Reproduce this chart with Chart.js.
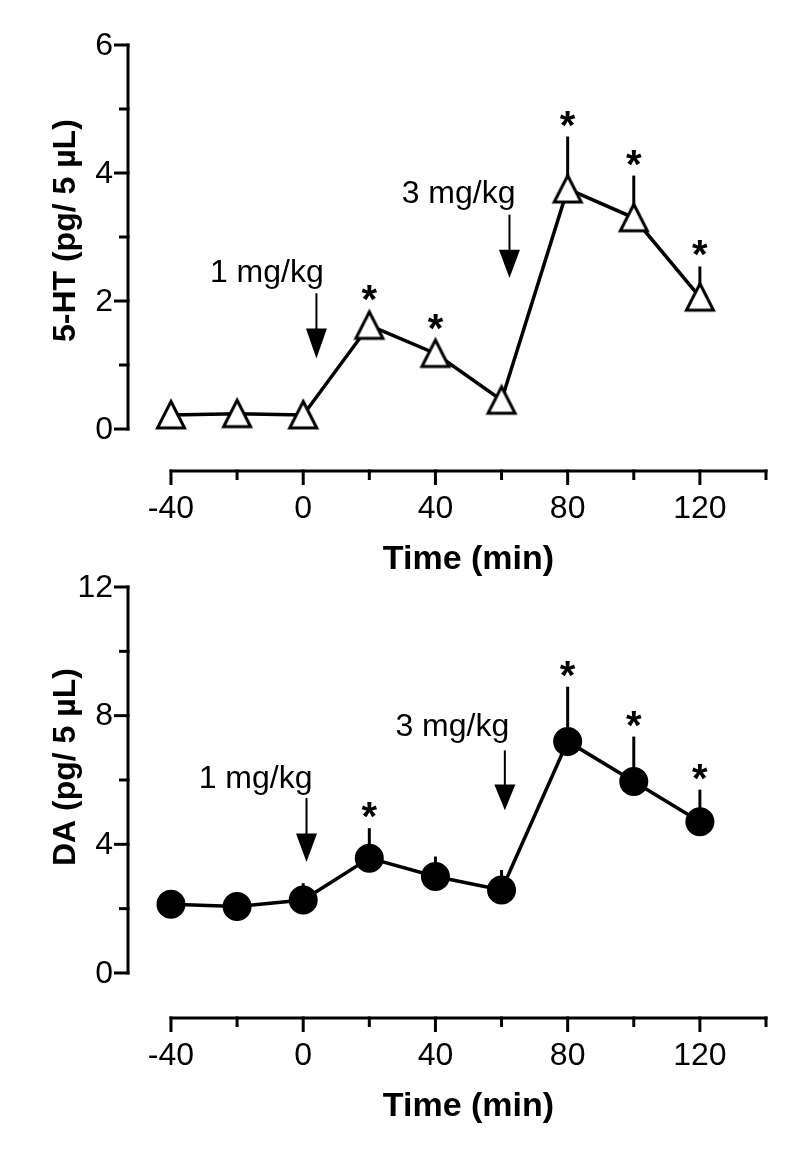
<!DOCTYPE html>
<html>
<head>
<meta charset="utf-8">
<script src="https://cdn.jsdelivr.net/npm/chart.js@4.4.1/dist/chart.umd.min.js"></script>
<style>
  body { margin: 0; background: #fff; }
  .box { position: absolute; left: 0; width: 804px; height: 600px; }
</style>
</head>
<body>
<div class="box" style="top:0"><canvas id="htChart" width="804" height="600"></canvas></div>
<div class="box" style="top:549px"><canvas id="daChart" width="804" height="600"></canvas></div>
<script>
// sampling times (min)
const times = [-40, -20, 0, 20, 40, 60, 80, 100, 120];

// 5-HT (pg / 5 uL), mean and upper error
const htValues = [0.22, 0.24, 0.22, 1.62, 1.18, 0.45, 3.75, 3.30, 2.06];
const htErrors = [0.05, 0.05, 0.05, 0.20, 0.15, 0.10, 0.82, 0.66, 0.48];
const htStars = [false, false, false, true, true, false, true, true, true];

// DA (pg / 5 uL)
const daValues = [2.14, 2.07, 2.27, 3.57, 3.00, 2.58, 7.20, 5.95, 4.70];
const daErrors = [0.10, 0.10, 0.52, 0.93, 0.62, 0.62, 1.70, 1.40, 1.00];
const daStars = [false, false, false, true, false, false, true, true, true];

// axis ticks
const xTicks = [-40, -20, 0, 20, 40, 60, 80, 100, 120, 140];
const xTickLabels = ['-40', '', '0', '', '40', '', '80', '', '120', ''];
const htTicks = [0, 1, 2, 3, 4, 5, 6];
const htTickLabels = ['0', '', '2', '', '4', '', '6'];
const daTicks = [0, 2, 4, 6, 8, 10, 12];
const daTickLabels = ['0', '', '4', '', '8', '', '12'];

// dose arrows: arrow time, label time / level, [shaft top, head start, tip]
const doseLabels = ['1 mg/kg', '3 mg/kg'];
const htDoseAt = [{ x: 4, tx: -11, ty: 2.44, arrow: [2.12, 1.57, 1.10] },
                  { x: 62.4, tx: 47, ty: 3.67, arrow: [3.35, 2.80, 2.36] }];
const daDoseAt = [{ x: 1, tx: -14.4, ty: 6.01, arrow: [5.44, 4.34, 3.45] },
                  { x: 61, tx: 45.1, ty: 7.65, arrow: [6.92, 5.86, 5.06] }];

const FONT = "'Liberation Sans', Arial, sans-serif";
Chart.defaults.font.family = FONT;
Chart.defaults.color = '#000';

// open triangle marker, a little taller than Chart.js' own
function triangleMarker() {
  const c = document.createElement('canvas');
  c.width = 34; c.height = 34;
  const g = c.getContext('2d');
  g.lineWidth = 3;
  g.beginPath();
  g.moveTo(17, 3.5); g.lineTo(30.5, 30); g.lineTo(3.5, 30); g.closePath();
  g.fillStyle = '#fff'; g.fill();
  g.strokeStyle = '#000'; g.stroke();
  return c;
}

const decor = {
  id: 'decor',
  beforeDatasetsDraw(chart, args, o) {
    const { ctx, chartArea, scales: { x, y } } = chart;
    ctx.save();
    ctx.strokeStyle = '#000';
    ctx.lineWidth = 3;

    // detached y axis, 0 .. max
    const ax = chartArea.left;
    const yb = y.getPixelForValue(o.yTicks[0]);
    const yt = y.getPixelForValue(o.yTicks[o.yTicks.length - 1]);
    ctx.beginPath(); ctx.moveTo(ax, yb + 1.5); ctx.lineTo(ax, yt - 1.5); ctx.stroke();
    o.yTicks.forEach((v, i) => {
      const py = y.getPixelForValue(v);
      const len = o.yLabels[i] ? 14 : 9;
      ctx.beginPath(); ctx.moveTo(ax + 1.5, py); ctx.lineTo(ax - len, py); ctx.stroke();
    });

    // detached x axis, -40 .. 140
    const ay = chartArea.bottom;
    const xl = x.getPixelForValue(xTicks[0]);
    const xr = x.getPixelForValue(xTicks[xTicks.length - 1]);
    ctx.beginPath(); ctx.moveTo(xl - 1.5, ay); ctx.lineTo(xr + 1.5, ay); ctx.stroke();
    xTicks.forEach((v, i) => {
      const px = x.getPixelForValue(v);
      const len = xTickLabels[i] ? 14 : 9;
      ctx.beginPath(); ctx.moveTo(px, ay - 1.5); ctx.lineTo(px, ay + len); ctx.stroke();
    });

    // error bars (upper only), drawn under the markers
    times.forEach((t, i) => {
      const px = x.getPixelForValue(t);
      ctx.beginPath();
      ctx.moveTo(px, y.getPixelForValue(o.values[i]));
      ctx.lineTo(px, y.getPixelForValue(o.values[i] + o.errors[i]));
      ctx.stroke();
    });
    ctx.restore();
  },
  afterDatasetsDraw(chart, args, o) {
    const { ctx, chartArea, scales: { x, y } } = chart;
    ctx.save();
    ctx.fillStyle = '#000';
    ctx.strokeStyle = '#000';
    ctx.textBaseline = 'middle';

    // tick labels
    ctx.font = '32px ' + FONT;
    ctx.textAlign = 'right';
    o.yTicks.forEach((v, i) => {
      if (o.yLabels[i]) ctx.fillText(o.yLabels[i], chartArea.left - 15, y.getPixelForValue(v) + 1);
    });
    ctx.textAlign = 'center';
    xTicks.forEach((v, i) => {
      if (xTickLabels[i]) ctx.fillText(xTickLabels[i], x.getPixelForValue(v), chartArea.bottom + 38);
    });

    // significance stars
    ctx.font = 'bold 40px ' + FONT;
    times.forEach((t, i) => {
      if (!o.stars[i]) return;
      const top = Math.min(y.getPixelForValue(o.values[i] + o.errors[i]),
                           y.getPixelForValue(o.values[i]) - o.markerTop);
      ctx.fillText('*', x.getPixelForValue(t), top - 9);
    });

    // dose arrows and labels
    ctx.font = '32px ' + FONT;
    o.doses.forEach((d, i) => {
      const px = x.getPixelForValue(d.x);
      const [a0, a1, a2] = d.arrow.map(v => y.getPixelForValue(v));
      ctx.lineWidth = 2;
      ctx.beginPath(); ctx.moveTo(px, a0); ctx.lineTo(px, a1 + 1); ctx.stroke();
      ctx.beginPath();
      ctx.moveTo(px - 10.5, a1); ctx.lineTo(px + 10.5, a1); ctx.lineTo(px, a2);
      ctx.closePath(); ctx.fill();
      ctx.fillText(doseLabels[i], x.getPixelForValue(d.tx), y.getPixelForValue(d.ty));
    });

    // axis titles
    ctx.font = 'bold 34px ' + FONT;
    const midX = (x.getPixelForValue(xTicks[0]) + x.getPixelForValue(xTicks[xTicks.length - 1])) / 2;
    ctx.fillText('Time (min)', midX, chartArea.bottom + 89);
    ctx.font = 'bold 32px ' + FONT;
    ctx.save();
    ctx.translate(66, y.getPixelForValue(o.yTitleAt));
    ctx.rotate(-Math.PI / 2);
    ctx.fillText(o.yTitle, 0, 0);
    ctx.restore();
    ctx.restore();
  }
};

function makeChart(id, cfg) {
  return new Chart(document.getElementById(id), {
    type: 'line',
    data: {
      datasets: [{
        data: times.map((t, i) => ({ x: t, y: cfg.values[i] })),
        borderColor: '#000',
        borderWidth: 3.5,
        tension: 0,
        pointStyle: cfg.pointStyle,
        pointRadius: cfg.pointRadius,
        pointBackgroundColor: cfg.pointFill,
        pointBorderColor: '#000',
        pointBorderWidth: 3
      }]
    },
    options: {
      responsive: false,
      animation: false,
      layout: { padding: { top: cfg.padTop, right: 38, left: 0, bottom: 0 } },
      plugins: {
        legend: { display: false },
        tooltip: { enabled: false },
        decor: {
          values: cfg.values, errors: cfg.errors, stars: cfg.stars,
          yTicks: cfg.yTicks, yLabels: cfg.yLabels, doses: cfg.doses,
          yTitle: cfg.yTitle, markerTop: cfg.markerTop, yTitleAt: cfg.yTitleAt
        }
      },
      scales: {
        x: {
          type: 'linear', min: -53, max: 140,
          grid: { display: false },
          border: { display: false },
          afterBuildTicks: s => { s.ticks = xTicks.map(v => ({ value: v })); },
          afterFit: s => { s.height = 600 - cfg.axisY; },
          ticks: { display: false }
        },
        y: {
          type: 'linear', min: cfg.yMin, max: cfg.yTicks[cfg.yTicks.length - 1],
          grid: { display: false },
          border: { display: false },
          afterBuildTicks: s => { s.ticks = cfg.yTicks.map(v => ({ value: v })); },
          afterFit: s => { s.width = 128; },
          ticks: { display: false }
        }
      }
    },
    plugins: [decor]
  });
}

makeChart('htChart', {
  values: htValues, errors: htErrors, stars: htStars,
  yTicks: htTicks, yLabels: htTickLabels, yMin: -0.656,
  padTop: 45, axisY: 471, doses: htDoseAt,
  pointStyle: triangleMarker(), pointRadius: 15, pointFill: '#fff', markerTop: 14,
  yTitle: '5-HT (pg/ 5 µL)', yTitleAt: 3.1
});

makeChart('daChart', {
  values: daValues, errors: daErrors, stars: daStars,
  yTicks: daTicks, yLabels: daTickLabels, yMin: -1.40,
  padTop: 38, axisY: 469, doses: daDoseAt,
  pointStyle: 'circle', pointRadius: 13, pointFill: '#000', markerTop: 13,
  yTitle: 'DA (pg/ 5 µL)', yTitleAt: 6.4
});
</script>
</body>
</html>
